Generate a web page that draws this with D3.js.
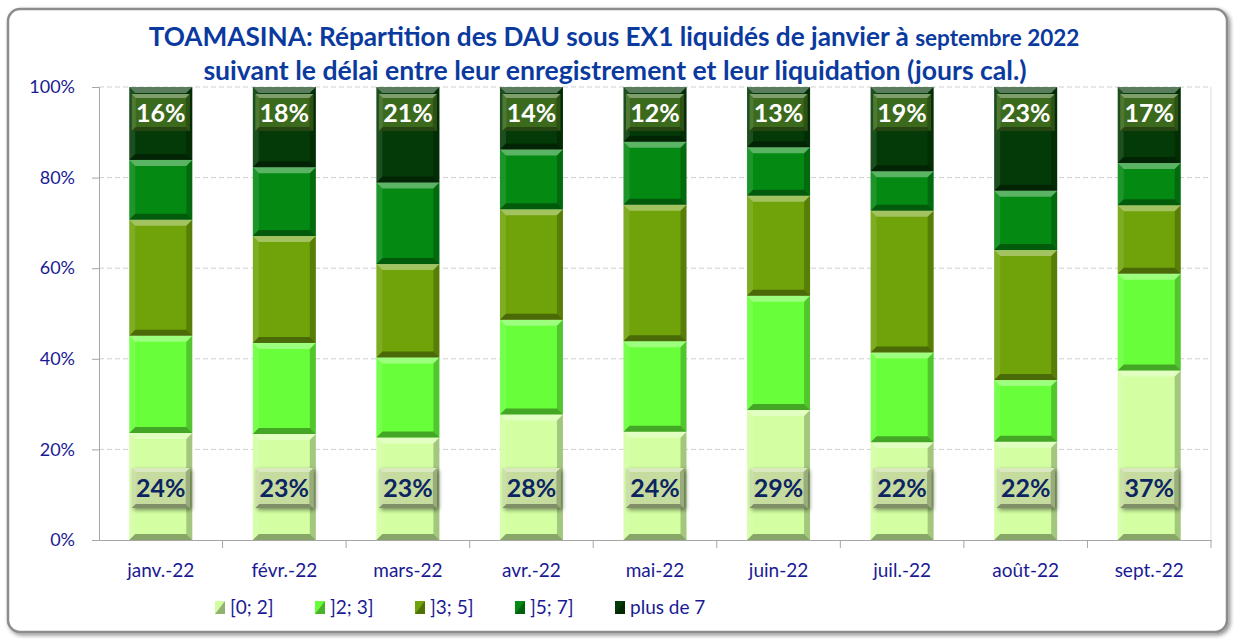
<!DOCTYPE html>
<html>
<head>
<meta charset="utf-8">
<script src="https://cdn.jsdelivr.net/npm/d3@7"></script>
<style>
  body { margin: 0; background: #fff; }
  svg { display: block; font-family: Lato, "Open Sans", sans-serif; }
</style>
</head>
<body>
<div id="chart"></div>
<script>
const months = ["janv.-22", "févr.-22", "mars-22", "avr.-22", "mai-22", "juin-22", "juil.-22", "août-22", "sept.-22"];
const classes = ["[0; 2]", "]2; 3]", "]3; 5]", "]5; 7]", "plus de 7"];

// parts en %
const s02 = [23.6, 23.4, 22.6, 27.7, 23.9, 28.7, 21.6, 21.7, 37.4];
const s23 = [21.5, 20.1, 17.7, 20.9, 20.0, 25.2, 19.8, 13.6, 21.4];
const s35 = [25.6, 23.6, 20.6, 24.4, 30.1, 22.1, 31.3, 28.7, 15.1];
const s57 = [13.2, 15.2, 18.0, 13.2, 13.9, 10.7, 8.7, 13.1, 9.3];
const s7p = [16.1, 17.7, 21.1, 13.8, 12.1, 13.3, 18.6, 22.9, 16.8];
const yTicks = [0, 0.2, 0.4, 0.6, 0.8, 1];

const colors = ["#d3ffa2", "#68ff3a", "#70a30a", "#048a12", "#033a07"];

const w = 1234;
const h = 639;
const m = { left: 99, right: 22, top: 87, bottom: 99 };

const rows = months.map((mo, i) => ({
  month: mo,
  [classes[0]]: s02[i],
  [classes[1]]: s23[i],
  [classes[2]]: s35[i],
  [classes[3]]: s57[i],
  [classes[4]]: s7p[i]
}));

const stacked = d3.stack().keys(classes).offset(d3.stackOffsetExpand)(rows);

const svg = d3.select("#chart").append("svg").attr("width", w).attr("height", h);
const defs = svg.append("defs");

const shadow = defs.append("filter").attr("id", "shadow").attr("x", "-10%").attr("y", "-10%").attr("width", "120%").attr("height", "130%");
shadow.append("feDropShadow").attr("dx", 2).attr("dy", 2).attr("stdDeviation", 2).attr("flood-color", "#000").attr("flood-opacity", 0.45);

// cadre
svg.append("rect")
  .attr("x", 8).attr("y", 9).attr("width", 1219).attr("height", 623)
  .attr("rx", 12)
  .attr("fill", "#fff")
  .attr("stroke", "#8c8c8c").attr("stroke-width", 2.5)
  .attr("filter", "url(#shadow)");

// titre
const title = svg.append("text")
  .attr("text-anchor", "middle")
  .attr("fill", "#0b3a9f")
  .attr("font-weight", "bold");
title.append("tspan").attr("x", 614).attr("y", 46).attr("font-size", 26.2)
  .text("TOAMASINA: Répartition des DAU sous EX1 liquidés de janvier à ")
  .append("tspan").attr("font-size", 22.5).text("septembre 2022");
title.append("tspan").attr("x", 615).attr("y", 80).attr("font-size", 26.6)
  .text("suivant le délai entre leur enregistrement et leur liquidation (jours cal.)");

// Escalas
const xScale = d3.scaleBand()
  .domain(months)
  .range([m.left, w - m.right - 1])
  .paddingInner(0.49)
  .paddingOuter(0.245);

const yScale = d3.scaleLinear().domain([0, 1]).range([h - m.bottom, m.top]);

// grille
svg.append("g")
  .selectAll("line")
  .data(yTicks.filter((d) => d > 0))
  .join("line")
  .attr("x1", m.left).attr("x2", w - m.right - 1)
  .attr("y1", (d) => yScale(d)).attr("y2", (d) => yScale(d))
  .attr("stroke", "#cfcfcf").attr("stroke-dasharray", "5,3");

svg.append("line")
  .attr("x1", w - m.right - 1).attr("x2", w - m.right - 1)
  .attr("y1", m.top).attr("y2", h - m.bottom)
  .attr("stroke", "#dcdcdc");

// Ejes
const yAxis = d3.axisLeft(yScale).tickValues(yTicks).tickFormat(d3.format(".0%")).tickSize(7).tickPadding(17);
const gy = svg.append("g").attr("transform", `translate(${m.left},0)`).call(yAxis);
gy.select(".domain").attr("stroke", "#a6a6a6");
gy.selectAll(".tick line").attr("stroke", "#a6a6a6");
gy.selectAll(".tick text").attr("fill", "#1a1a94").attr("font-size", 18).attr("font-family", "Lato");

const xAxis = d3.axisBottom(xScale).tickSize(0).tickPadding(24);
const gx = svg.append("g").attr("transform", `translate(0,${h - m.bottom})`).call(xAxis);
gx.select(".domain").attr("stroke", "#a6a6a6");
gx.selectAll(".tick text").attr("fill", "#1a1a94").attr("font-size", 19).attr("font-family", "Lato");

const gap = (xScale.step() - xScale.bandwidth()) / 2;
gx.selectAll(".sep")
  .data(months)
  .join("line")
  .attr("class", "sep")
  .attr("x1", (d) => xScale(d) + xScale.bandwidth() + gap)
  .attr("x2", (d) => xScale(d) + xScale.bandwidth() + gap)
  .attr("y1", 0).attr("y2", 8)
  .attr("stroke", "#a6a6a6");

// Barras biseautees
function bevel(g, x, y, bw, bh, fill, b) {
  b = Math.min(b, bh / 2.5);
  g.append("rect").attr("x", x).attr("y", y).attr("width", bw).attr("height", bh).attr("fill", fill);
  const x2 = x + bw, y2 = y + bh;
  const poly = (pts, col, op) =>
    g.append("polygon").attr("points", pts.map((p) => p.join(",")).join(" ")).attr("fill", col).attr("fill-opacity", op);
  poly([[x, y], [x2, y], [x2 - b, y + b], [x + b, y + b]], "#fff", 0.35);
  poly([[x, y], [x + b, y + b], [x + b, y2 - b], [x, y2]], "#fff", 0.1);
  poly([[x2, y], [x2, y2], [x2 - b, y2 - b], [x2 - b, y + b]], "#000", 0.22);
  poly([[x, y2], [x + b, y2 - b], [x2 - b, y2 - b], [x2, y2]], "#000", 0.35);
}

stacked.forEach((layer, k) => {
  layer.forEach((d) => {
    const g = svg.append("g").attr("class", "bar");
    const top = yScale(d[1]);
    const bot = yScale(d[0]);
    bevel(g, xScale(d.data.month), top, xScale.bandwidth(), bot - top, colors[k], 6);
  });
});

// etiquettes
const boxW = 58, boxH = 40;
months.forEach((mo, i) => {
  const cx = xScale(mo) + xScale.bandwidth() / 2;

  const low = svg.append("g").attr("filter", "url(#shadow)");
  const ly = yScale(0) - 72;
  bevel(low, cx - boxW / 2, ly, boxW, boxH, "#c6dc9f", 4);
  svg.append("text")
    .attr("x", cx).attr("y", ly + boxH / 2 + 9)
    .attr("text-anchor", "middle")
    .attr("font-size", 25).attr("font-weight", "bold")
    .attr("fill", "#0c2462")
    .text(Math.round(s02[i]) + "%");

  const up = svg.append("g");
  const uy = yScale(1) + 7;
  bevel(up, cx - boxW / 2, uy, boxW, boxH - 3, "#3c6a1c", 4);
  svg.append("text")
    .attr("x", cx).attr("y", uy + (boxH - 3) / 2 + 9)
    .attr("text-anchor", "middle")
    .attr("font-size", 25).attr("font-weight", "bold")
    .attr("fill", "#fff")
    .text(Math.round(s7p[i]) + "%");
});

// Legende
const legend = svg.append("g").attr("transform", `translate(215,${h - 25})`);
classes.forEach((c, i) => {
  const gi = legend.append("g").attr("transform", `translate(${i * 100},0)`);
  gi.append("rect").attr("x", 0).attr("y", -13).attr("width", 10).attr("height", 13).attr("fill", colors[i]);
  gi.append("polygon").attr("points", "0,0 10,-13 10,0").attr("fill", "#000").attr("fill-opacity", 0.3);
  gi.append("text").attr("x", 15).attr("y", 0)
    .attr("font-size", 19).attr("fill", "#1a1a94")
    .text(c);
});
</script>
</body>
</html>
